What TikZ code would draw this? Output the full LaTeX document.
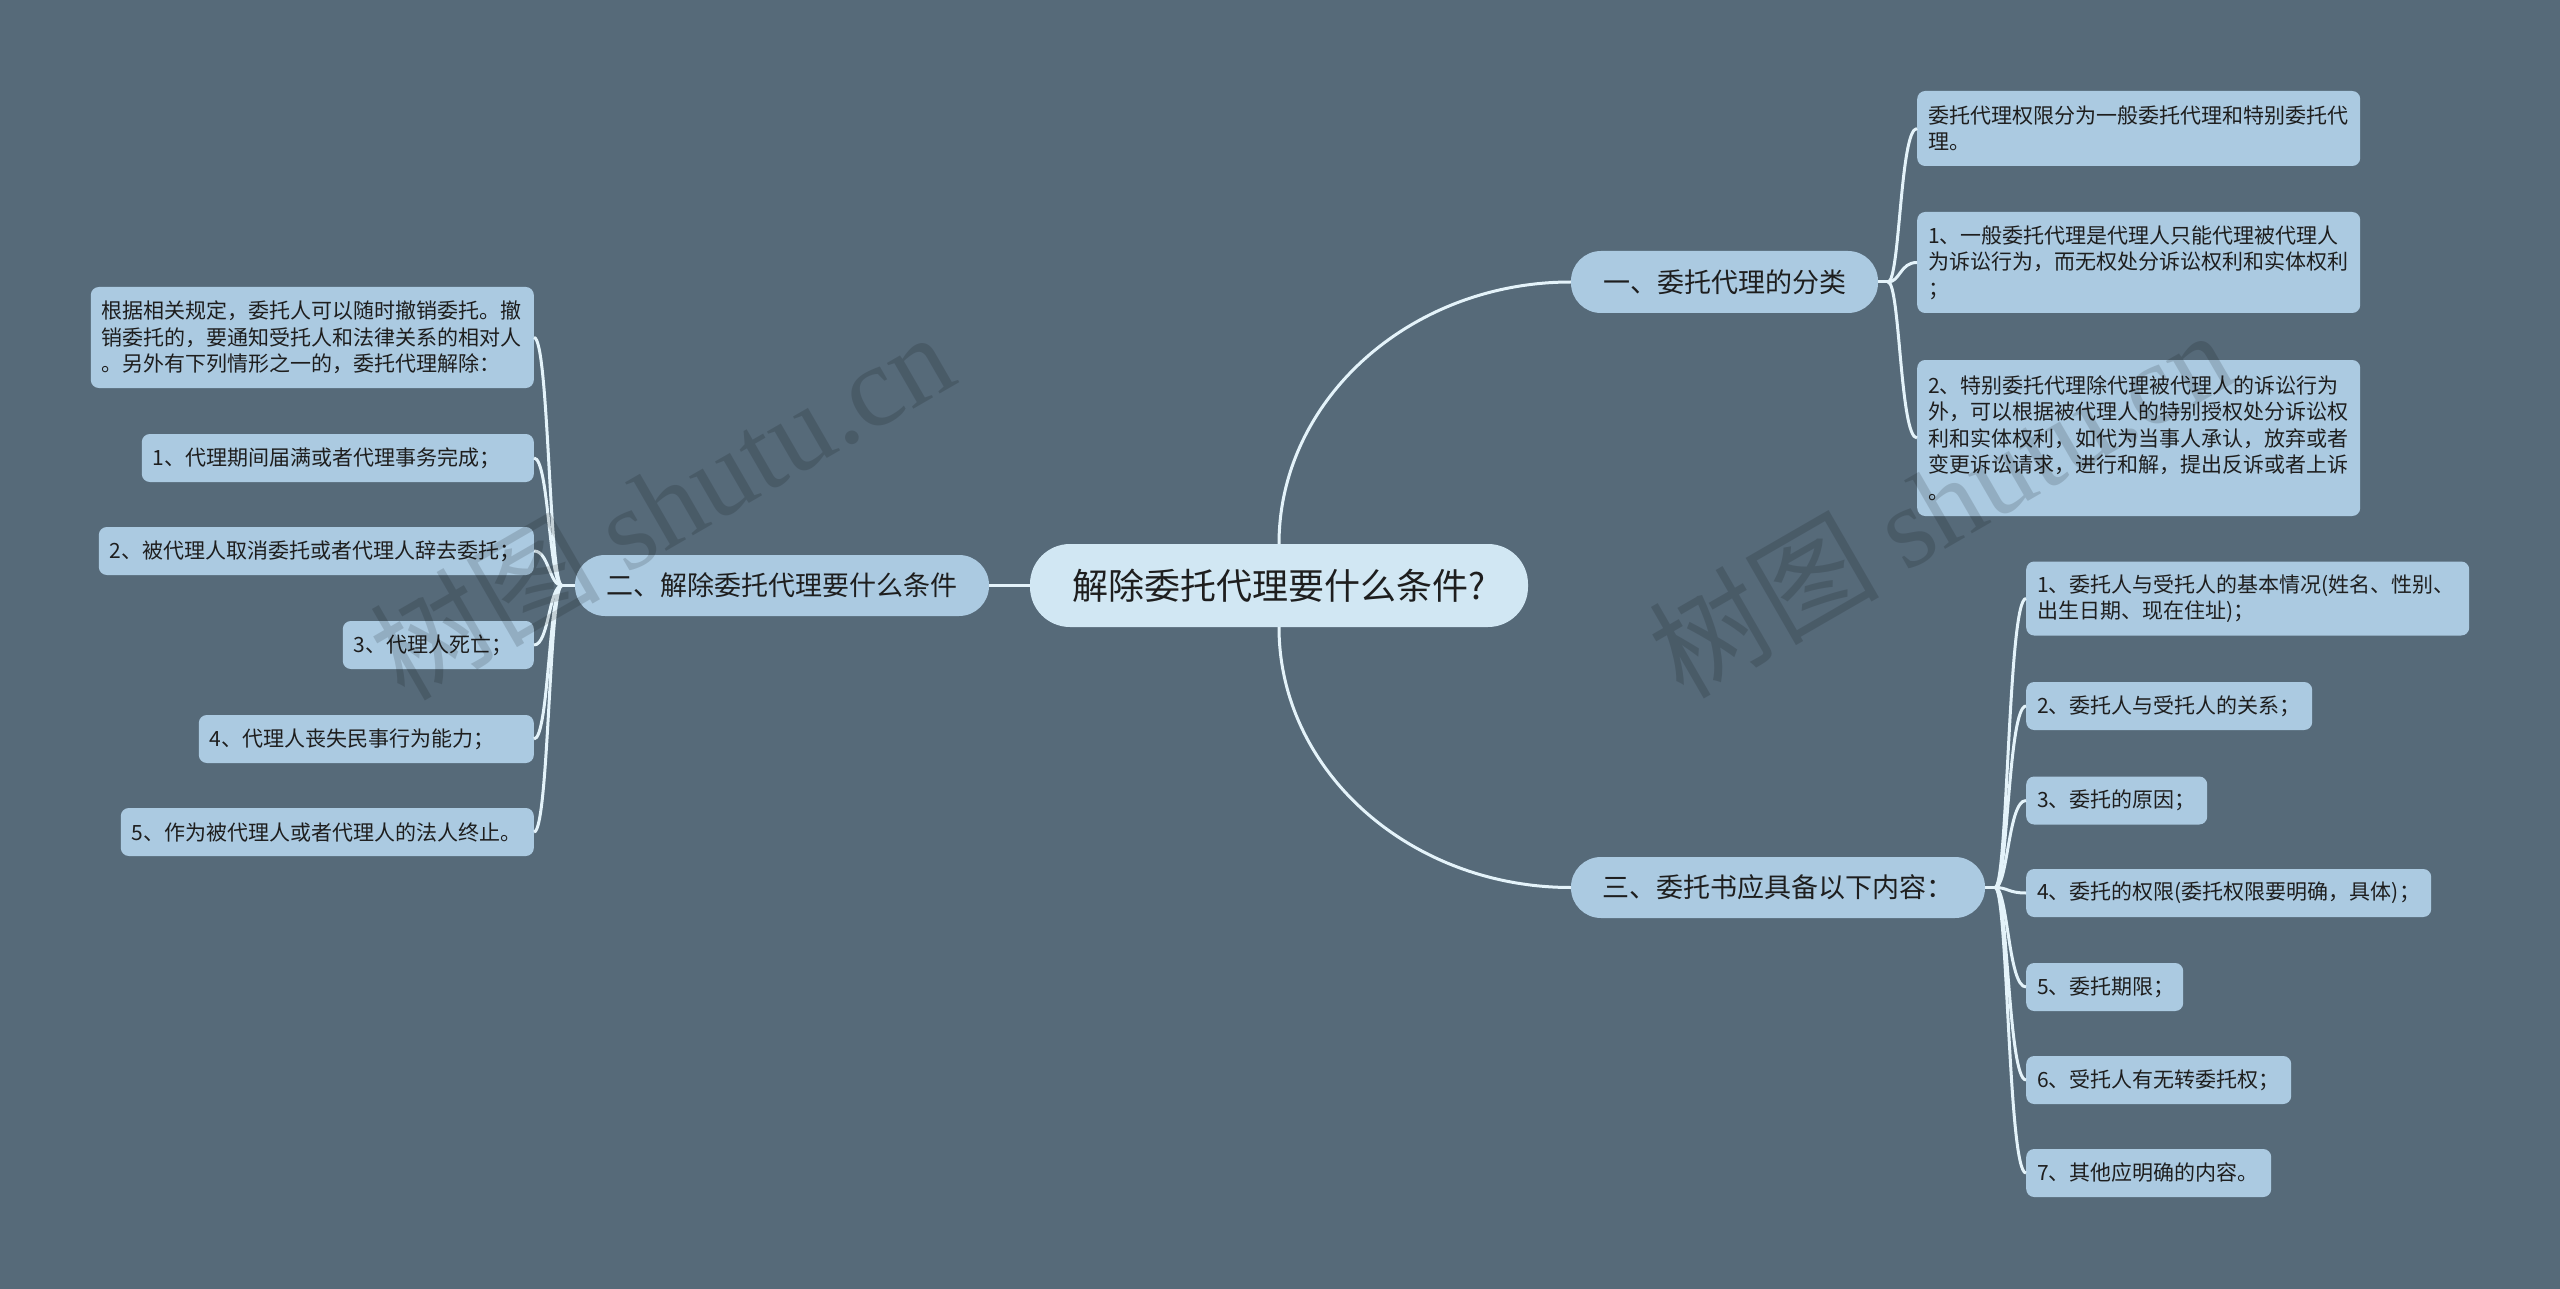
\documentclass[tikz,border=0pt]{standalone}
\usepackage{fontspec}
\setmainfont{Noto Sans CJK SC}
\newfontfamily\wmserif{Liberation Serif}
\newfontfamily\wmcjk{Noto Sans CJK SC}
\definecolor{bgc}{HTML}{566A79}
\definecolor{leafc}{HTML}{ABCAE1}
\definecolor{centc}{HTML}{D1E7F3}
\definecolor{linec}{HTML}{E4F3FA}
\definecolor{textc}{HTML}{1E1E1E}
\tikzset{
  leaf/.style={fill=leafc, rounded corners=8pt, inner xsep=11pt, inner ysep=0pt,
    align=left, text=textc, font=\fontsize{21}{26.5}\selectfont},
  branch/.style={fill=leafc, rounded corners=30pt, inner sep=0pt, text=textc,
    font=\fontsize{27}{32}\selectfont, minimum height=61pt},
  centre/.style={fill=centc, rounded corners=40pt, inner sep=0pt, text=textc,
    font=\fontsize{36}{42}\selectfont, minimum width=498pt, minimum height=83pt},
  conn/.style={draw=linec, line width=3pt},
  wm/.style={text=black, text opacity=0.14, inner sep=0pt, font=\fontsize{115}{115}\selectfont}
}
\begin{document}
\begin{tikzpicture}[x=1pt,y=-1pt]
\useasboundingbox (0,0) rectangle (2560,1289);
\fill[bgc] (0,0) rectangle (2560,1289);

% centre and branches
\node[centre] (c) at (1279,585.5) {解除委托代理要什么条件?};
\node[branch, minimum width=414pt] (b2) at (782,585.5) {二、解除委托代理要什么条件};
\node[branch, minimum width=307pt, minimum height=62pt] (b1) at (1724.5,282) {一、委托代理的分类};
\node[branch, minimum width=414pt] (b3) at (1778,887.5) {三、委托书应具备以下内容：};

% left leaves
\node[leaf, anchor=east, text width=421pt, minimum height=101pt] (L0) at (534,337.5)
  {根据相关规定，委托人可以随时撤销委托。撤\\销委托的，要通知受托人和法律关系的相对人\\。另外有下列情形之一的，委托代理解除：};
\node[leaf, anchor=east, text width=370pt, minimum height=48pt] (L1) at (534,458) {1、代理期间届满或者代理事务完成；};
\node[leaf, anchor=east, text width=413pt, minimum height=48pt] (L2) at (534,551) {2、被代理人取消委托或者代理人辞去委托；};
\node[leaf, anchor=east, text width=169pt, minimum height=48pt] (L3) at (534,645) {3、代理人死亡；};
\node[leaf, anchor=east, text width=313pt, minimum height=48pt] (L4) at (534,739) {4、代理人丧失民事行为能力；};
\node[leaf, anchor=east, text width=391pt, minimum height=48pt] (L5) at (534,832) {5、作为被代理人或者代理人的法人终止。};

% right top leaves
\node[leaf, anchor=west, text width=421pt, minimum height=75pt] (R0) at (1917,128.5)
  {委托代理权限分为一般委托代理和特别委托代\\理。};
\node[leaf, anchor=west, text width=421pt, minimum height=101pt] (R1) at (1917,262.5)
  {1、一般委托代理是代理人只能代理被代理人\\为诉讼行为，而无权处分诉讼权利和实体权利\\；};
\node[leaf, anchor=west, text width=421pt, minimum height=156pt] (R2) at (1917,438)
  {2、特别委托代理除代理被代理人的诉讼行为\\外，可以根据被代理人的特别授权处分诉讼权\\利和实体权利，如代为当事人承认，放弃或者\\变更诉讼请求，进行和解，提出反诉或者上诉\\。};

% right bottom leaves
\node[leaf, anchor=west, text width=421pt, minimum height=74pt] (B0) at (2026,598.5)
  {1、委托人与受托人的基本情况(姓名、性别、\\出生日期、现在住址)；};
\node[leaf, anchor=west, text width=264pt, minimum height=48pt] (B1) at (2026,706) {2、委托人与受托人的关系；};
\node[leaf, anchor=west, text width=159pt, minimum height=48pt] (B2) at (2026,800.5) {3、委托的原因；};
\node[leaf, anchor=west, text width=383pt, minimum height=48pt] (B3) at (2026,893) {4、委托的权限(委托权限要明确，具体)；};
\node[leaf, anchor=west, text width=135pt, minimum height=48pt] (B4) at (2026,987) {5、委托期限；};
\node[leaf, anchor=west, text width=243pt, minimum height=48pt] (B5) at (2026,1080) {6、受托人有无转委托权；};
\node[leaf, anchor=west, text width=223pt, minimum height=48pt] (B6) at (2026,1173) {7、其他应明确的内容。};

% main connectors
\draw[conn] (c.west) -- (b2.east);
\draw[conn] (c.north) .. controls (1279,400) and (1410,282) .. (b1.west);
\draw[conn] (c.south) .. controls (1279,771) and (1410,887.5) .. (b3.west);

% junctions
\coordinate (JL) at (562,585.5); \coordinate (VL) at (549,585.5);
\coordinate (JR) at (1888,282);  \coordinate (VR) at (1900,282);
\coordinate (JB) at (1995,887.5); \coordinate (VB) at (2008,887.5);

\draw[conn] (b2.west) -- (JL);
\foreach \n in {L0,L1,L2,L3,L4,L5}
  \draw[conn] (JL) .. controls (VL) and (VL |- \n.east) .. (\n.east);
\draw[conn] (b1.east) -- (JR);
\foreach \n in {R0,R1,R2}
  \draw[conn] (JR) .. controls (VR) and (VR |- \n.west) .. (\n.west);
\draw[conn] (b3.east) -- (JB);
\foreach \n in {B0,B1,B2,B3,B4,B5,B6}
  \draw[conn] (JB) .. controls (VB) and (VB |- \n.west) .. (\n.west);

% watermarks
\node[wm, rotate=30] (wm1) at (661,504) {{\wmcjk 树图} {\wmserif shutu.cn}};
\node[wm, rotate=30] (wm2) at (1940,502) {{\wmcjk 树图} {\wmserif shutu.cn}};
\end{tikzpicture}
\end{document}
